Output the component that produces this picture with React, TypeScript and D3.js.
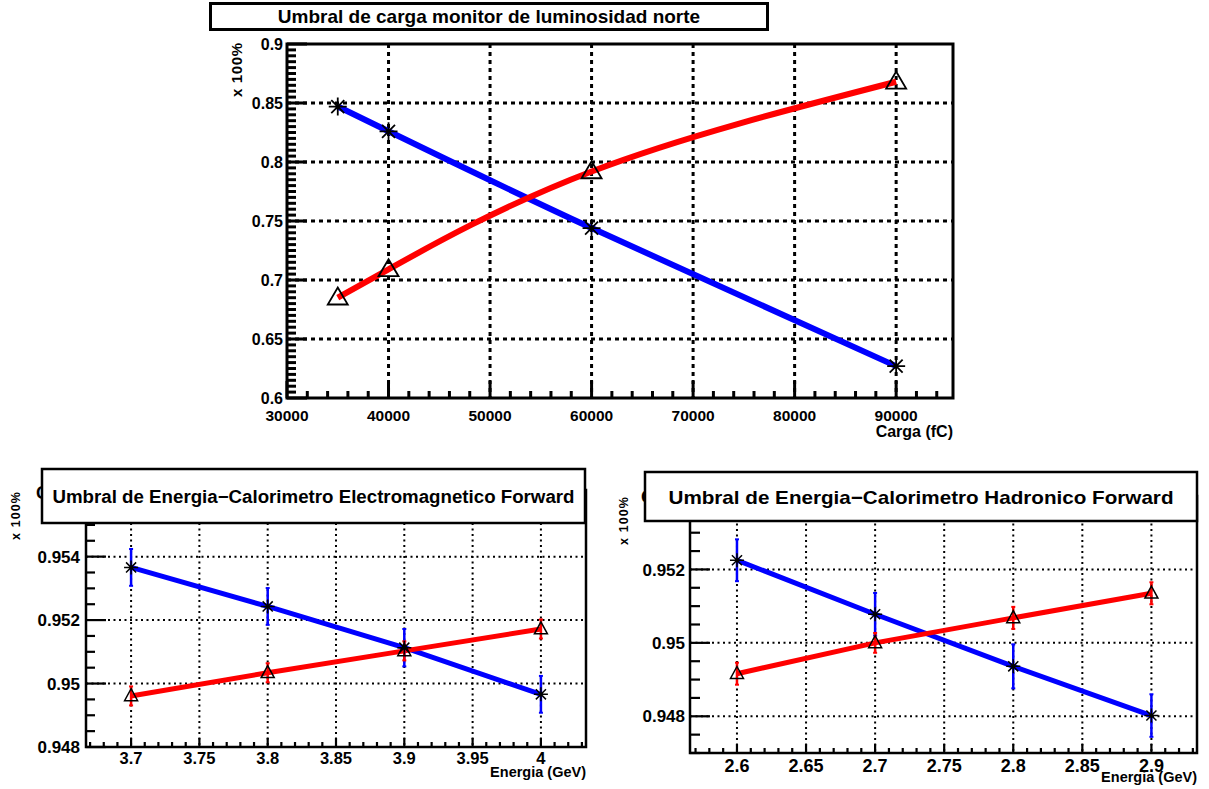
import { useEffect, useRef } from "react";
import * as d3 from "d3";

const FONT = "'Liberation Sans', Arial, Helvetica, sans-serif";

// ---- Panel 1: Umbral de carga monitor de luminosidad norte
const cargaTitle = "Umbral de carga monitor de luminosidad norte";
const cargaX = [35000, 40000, 60000, 90000];
const cargaAzul = [0.847, 0.826, 0.744, 0.627];
const cargaRojo = [0.685, 0.709, 0.792, 0.868];
const cargaXTicks = [30000, 40000, 50000, 60000, 70000, 80000, 90000];
const cargaYTicks = [0.6, 0.65, 0.7, 0.75, 0.8, 0.85, 0.9];

// ---- Panel 2: Calorimetro Electromagnetico Forward
const emTitle = "Umbral de Energia\u2212Calorimetro Electromagnetico Forward";
const emX = [3.7, 3.8, 3.9, 4.0];
const emAzul = [0.95366, 0.95243, 0.95113, 0.94966];
const emAzulErr = [0.00058, 0.00058, 0.00059, 0.00058];
const emRojo = [0.94961, 0.95034, 0.95103, 0.95172];
const emRojoErr = [0.0003, 0.0003, 0.0003, 0.0003];
const emXTicks = [3.7, 3.75, 3.8, 3.85, 3.9, 3.95, 4.0];
const emYTicks = [0.948, 0.95, 0.952, 0.954];

// ---- Panel 3: Calorimetro Hadronico Forward
const hadTitle = "Umbral de Energia\u2212Calorimetro Hadronico Forward";
const hadX = [2.6, 2.7, 2.8, 2.9];
const hadAzul = [0.95225, 0.95078, 0.94936, 0.94802];
const hadAzulErr = [0.00057, 0.00058, 0.0006, 0.00058];
const hadRojo = [0.94916, 0.95, 0.95068, 0.95135];
const hadRojoErr = [0.0003, 0.00027, 0.0003, 0.0003];
const hadXTicks = [2.6, 2.65, 2.7, 2.75, 2.8, 2.85, 2.9];
const hadYTicks = [0.948, 0.95, 0.952];

const fmt = (v) => String(+v.toFixed(4));

function drawPanel(svg, p) {
    const x = d3.scaleLinear().domain(p.xDomain).range([p.left, p.right]);
    const y = d3.scaleLinear().domain(p.yDomain).range([p.bottom, p.top]);
    const g = svg.append("g");

    // grid (dotted)
    g.selectAll(".gx")
        .data(p.xTicks.filter((v) => x(v) > p.left + 3 && x(v) < p.right - 3))
        .join("line")
        .attr("x1", (d) => x(d)).attr("x2", (d) => x(d))
        .attr("y1", p.top).attr("y2", p.bottom)
        .attr("stroke", "#000").attr("stroke-width", p.gridW)
        .attr("stroke-dasharray", p.gridDash);
    g.selectAll(".gy")
        .data(p.yTicks.filter((v) => y(v) < p.bottom - 3 && y(v) > p.top + 3))
        .join("line")
        .attr("x1", p.left).attr("x2", p.right)
        .attr("y1", (d) => y(d)).attr("y2", (d) => y(d))
        .attr("stroke", "#000").attr("stroke-width", p.gridW)
        .attr("stroke-dasharray", p.gridDash);

    // ticks (inside the frame)
    const xMinor = d3.range(p.xMinor[0], p.xDomain[1], p.xMinor[1]);
    const yMinor = d3.range(p.yMinor[0], p.yDomain[1] + 1e-9, p.yMinor[1]);
    g.selectAll(".tx")
        .data(xMinor)
        .join("line")
        .attr("x1", (d) => x(d)).attr("x2", (d) => x(d))
        .attr("y1", p.bottom)
        .attr("y2", (d) => p.bottom - (p.xTicks.some((t) => Math.abs(t - d) < 1e-6 * Math.abs(p.xMinor[1]) * 1e3) ? p.xMajorLen : p.xMinorLen))
        .attr("stroke", "#000").attr("stroke-width", p.tickW);
    g.selectAll(".ty")
        .data(yMinor.filter((d) => y(d) >= p.top))
        .join("line")
        .attr("y1", (d) => y(d)).attr("y2", (d) => y(d))
        .attr("x1", p.left)
        .attr("x2", (d) => p.left + (p.yTicks.some((t) => Math.abs(t - d) < p.yMinor[1] / 10) ? p.yMajorLen : p.yMinorLen))
        .attr("stroke", "#000").attr("stroke-width", p.tickW);

    // frame
    g.append("rect")
        .attr("x", p.left).attr("y", p.top)
        .attr("width", p.right - p.left).attr("height", p.bottom - p.top)
        .attr("fill", "none").attr("stroke", "#000").attr("stroke-width", p.frameW);

    // series
    const series = [
        { xs: p.xs, ys: p.azul, err: p.azulErr, color: "#0000ff", marker: "star" },
        { xs: p.xs, ys: p.rojo, err: p.rojoErr, color: "#ff0000", marker: "tri" },
    ];
    series.forEach((s) => {
        const pts = s.xs.map((v, i) => [v, s.ys[i]]);
        const line = d3.line().x((d) => x(d[0])).y((d) => y(d[1])).curve(p.curve);
        g.append("path").attr("d", line(pts))
            .attr("fill", "none").attr("stroke", s.color)
            .attr("stroke-width", p.lineW).attr("stroke-linecap", "butt");
    });
    series.forEach((s) => {
        if (!s.err) return;
        s.xs.forEach((v, i) => {
            const cx = x(v);
            const y1 = y(s.ys[i] + s.err[i]);
            const y2 = y(s.ys[i] - s.err[i]);
            g.append("line").attr("x1", cx).attr("x2", cx).attr("y1", y1).attr("y2", y2)
                .attr("stroke", s.color).attr("stroke-width", 2.5);
            [y1, y2].forEach((yy) =>
                g.append("line").attr("x1", cx - 2).attr("x2", cx + 2).attr("y1", yy).attr("y2", yy)
                    .attr("stroke", s.color).attr("stroke-width", 2));
        });
    });
    series.forEach((s) => {
        s.xs.forEach((v, i) => {
            const cx = x(v);
            const cy = y(s.ys[i]);
            if (s.marker === "star") {
                const r = p.starR;
                const d = r * 0.72;
                g.append("path")
                    .attr("d", `M${cx - r},${cy}L${cx + r},${cy}M${cx},${cy - r}L${cx},${cy + r}M${cx - d},${cy - d}L${cx + d},${cy + d}M${cx - d},${cy + d}L${cx + d},${cy - d}`)
                    .attr("stroke", "#000").attr("stroke-width", p.markW).attr("fill", "none");
            } else {
                const w = p.triW / 2;
                const h = p.triH;
                g.append("path")
                    .attr("d", `M${cx},${cy - h * 0.6}L${cx + w},${cy + h * 0.4}L${cx - w},${cy + h * 0.4}Z`)
                    .attr("stroke", "#000").attr("stroke-width", p.markW).attr("fill", "none");
            }
        });
    });

    // tick labels
    g.selectAll(".lx")
        .data(p.xTicks)
        .join("text")
        .attr("x", (d) => x(d)).attr("y", p.xLabelY)
        .attr("text-anchor", "middle")
        .attr("font-family", FONT).attr("font-weight", "bold").attr("font-size", p.xLabelSize)
        .text(p.xFmt);
    g.selectAll(".ly")
        .data(p.yTicks)
        .join("text")
        .attr("x", p.left - p.yLabelGap).attr("y", (d) => y(d) + p.yLabelSize * 0.36)
        .attr("text-anchor", "end")
        .attr("font-family", FONT).attr("font-weight", "bold").attr("font-size", p.yLabelSize)
        .text(fmt);

    // axis titles
    g.append("text")
        .attr("x", p.right).attr("y", p.xTitleY)
        .attr("text-anchor", "end")
        .attr("font-family", FONT).attr("font-weight", "bold").attr("font-size", p.xTitleSize)
        .text(p.xTitle);
    g.append("text")
        .attr("transform", `translate(${p.yTitlePos[0]},${p.yTitlePos[1]}) rotate(-90)`)
        .attr("text-anchor", "middle")
        .attr("font-family", FONT).attr("font-weight", "bold").attr("font-size", p.yTitleSize)
        .attr("textLength", p.yTitleLen).attr("lengthAdjust", "spacing")
        .text("x 100%");

    // title box
    if (p.ghost) {
        g.append("text")
            .attr("x", p.ghost[0]).attr("y", p.ghost[1])
            .attr("font-family", FONT).attr("font-weight", "bold").attr("font-size", 18)
            .text("C");
    }
    const b = p.box;
    g.append("rect")
        .attr("x", b[0]).attr("y", b[1]).attr("width", b[2] - b[0]).attr("height", b[3] - b[1])
        .attr("fill", "#fff").attr("stroke", "#000").attr("stroke-width", p.boxW);
    const t = g.append("text")
        .attr("x", (b[0] + b[2]) / 2).attr("y", p.titleY)
        .attr("text-anchor", "middle")
        .attr("font-family", FONT).attr("font-weight", "bold").attr("font-size", p.titleSize)
        .text(p.title);
    if (p.titleLen) t.attr("textLength", p.titleLen).attr("lengthAdjust", "spacingAndGlyphs");
}

export default function App() {
    const ref = useRef(null);

    useEffect(() => {
        const el = ref.current;
        if (!el) return;
        const svg = d3.select(el);
        svg.selectAll("*").remove();

        drawPanel(svg, {
            left: 287, right: 953, top: 44, bottom: 398,
            xDomain: [30000, 95600], yDomain: [0.6, 0.9],
            xTicks: cargaXTicks, yTicks: cargaYTicks,
            xMinor: [30000, 2000], yMinor: [0.6, 0.005],
            xMajorLen: 17, xMinorLen: 7, yMajorLen: 20, yMinorLen: 9,
            tickW: 3, frameW: 3, gridW: 3, gridDash: "4,4",
            xs: cargaX, azul: cargaAzul, rojo: cargaRojo,
            curve: d3.curveNatural, lineW: 6, markW: 1.8,
            starR: 9, triW: 20, triH: 17,
            xLabelY: 421, xLabelSize: 15.5, xFmt: (d) => String(d),
            yLabelGap: 4, yLabelSize: 16,
            xTitle: "Carga (fC)", xTitleY: 437, xTitleSize: 16,
            yTitlePos: [242, 70], yTitleSize: 15, yTitleLen: 54,
            box: [210.5, 3.5, 767.5, 29.5], boxW: 3,
            title: cargaTitle, titleY: 23, titleSize: 19,
        });

        drawPanel(svg, {
            left: 86, right: 586, top: 490, bottom: 747,
            xDomain: [3.667, 4.033], yDomain: [0.948, 0.9561],
            xTicks: emXTicks, yTicks: emYTicks,
            xMinor: [3.67, 0.01], yMinor: [0.948, 0.0005],
            xMajorLen: 9, xMinorLen: 5, yMajorLen: 20, yMinorLen: 9,
            tickW: 2.2, frameW: 2.5, gridW: 2, gridDash: "2,3.5",
            xs: emX, azul: emAzul, azulErr: emAzulErr, rojo: emRojo, rojoErr: emRojoErr,
            curve: d3.curveLinear, lineW: 5, markW: 1.5,
            starR: 7, triW: 13, triH: 12,
            xLabelY: 764, xLabelSize: 16.5, xFmt: fmt,
            yLabelGap: 6, yLabelSize: 17,
            xTitle: "Energia (GeV)", xTitleY: 777, xTitleSize: 14.5,
            yTitlePos: [20, 516], yTitleSize: 12.5, yTitleLen: 48,
            ghost: [36, 499],
            box: [42, 469, 585, 523], boxW: 2.5,
            title: emTitle, titleY: 503, titleSize: 18, titleLen: 522,
        });

        drawPanel(svg, {
            left: 690, right: 1197, top: 496, bottom: 753,
            xDomain: [2.566, 2.933], yDomain: [0.947, 0.954],
            xTicks: hadXTicks, yTicks: hadYTicks,
            xMinor: [2.57, 0.01], yMinor: [0.947, 0.0005],
            xMajorLen: 9, xMinorLen: 5, yMajorLen: 20, yMinorLen: 10,
            tickW: 2.2, frameW: 2.5, gridW: 2, gridDash: "2,3.5",
            xs: hadX, azul: hadAzul, azulErr: hadAzulErr, rojo: hadRojo, rojoErr: hadRojoErr,
            curve: d3.curveLinear, lineW: 5, markW: 1.5,
            starR: 7, triW: 13, triH: 12,
            xLabelY: 772, xLabelSize: 18, xFmt: fmt,
            yLabelGap: 5, yLabelSize: 17,
            xTitle: "Energia (GeV)", xTitleY: 782, xTitleSize: 14.5,
            yTitlePos: [628, 521], yTitleSize: 12.5, yTitleLen: 48,
            ghost: [641, 503],
            box: [645, 472, 1197, 521], boxW: 2.5,
            title: hadTitle, titleY: 504, titleSize: 19, titleLen: 505,
        });
    }, []);

    return (
        <div style={{ position: "fixed", left: 0, top: 0, background: "#fff" }}>
            <svg ref={ref} width={1209} height={789} viewBox="0 0 1209 789" style={{ display: "block" }} />
        </div>
    );
}
